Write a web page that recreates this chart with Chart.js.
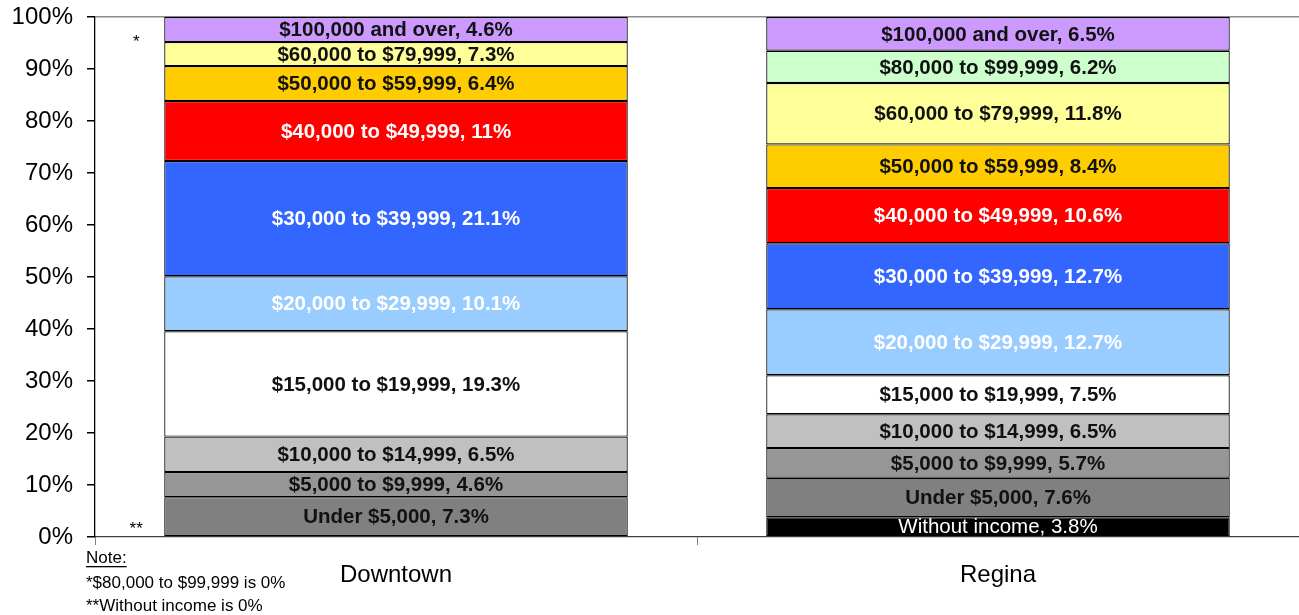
<!DOCTYPE html>
<html>
<head>
<meta charset="utf-8">
<script src="https://cdn.jsdelivr.net/npm/chart.js@4.4.1/dist/chart.umd.min.js"></script>
<style>
  html, body { margin: 0; padding: 0; background: #fff; }
  #wrap { position: relative; width: 1299px; height: 615px; }
  canvas { display: block; }
</style>
</head>
<body>
<div id="wrap"><canvas id="c" width="1299" height="615"></canvas></div>
<script>
// ---- Data ----
const categories = ['Downtown', 'Regina'];
const seriesNames = [
  'Without income',
  'Under $5,000',
  '$5,000 to $9,999',
  '$10,000 to $14,999',
  '$15,000 to $19,999',
  '$20,000 to $29,999',
  '$30,000 to $39,999',
  '$40,000 to $49,999',
  '$50,000 to $59,999',
  '$60,000 to $79,999',
  '$80,000 to $99,999',
  '$100,000 and over'
];
// plotted shares (bar heights; chart is 100%-stacked)
const downtownValues = [0, 7.3, 4.6, 6.5, 19.3, 10.1, 21.1, 11, 6.4, 4.4, 0, 4.6];
const reginaValues   = [3.8, 7.6, 5.7, 6.5, 7.5, 12.7, 12.7, 10.6, 8.4, 11.8, 6.2, 6.5];
// values printed in the segment labels
const downtownLabelValues = [0, 7.3, 4.6, 6.5, 19.3, 10.1, 21.1, 11, 6.4, 7.3, 0, 4.6];
const reginaLabelValues   = [3.8, 7.6, 5.7, 6.5, 7.5, 12.7, 12.7, 10.6, 8.4, 11.8, 6.2, 6.5];
const yTickLabels = ['0%','10%','20%','30%','40%','50%','60%','70%','80%','90%','100%'];
const zeroMarks = { 'Without income': '**', '$80,000 to $99,999': '*' };
const noteLines = ['Note:', '*$80,000 to $99,999 is 0%', '**Without income is 0%'];

// ---- Styles ----
const fillColors = ['#000000','#808080','#969696','#C0C0C0','#FFFFFF','#99CCFF',
                    '#3366FF','#FF0000','#FFCC00','#FFFF99','#CCFFCC','#CC99FF'];
const labelColors = ['#FFFFFF','#111','#111','#111','#111','#FFFFFF',
                     '#FFFFFF','#FFFFFF','#111','#111','#111','#111'];
const FONT = '"Liberation Sans", Arial, sans-serif';

const valuesByCat = [downtownValues, reginaValues];
const labelsByCat = [downtownLabelValues, reginaLabelValues];
const totals = valuesByCat.map(a => a.reduce((s, v) => s + v, 0));

const datasets = seriesNames.map((name, i) => ({
  label: name,
  data: valuesByCat.map((arr, c) => arr[i] / totals[c] * 100),
  shown: labelsByCat.map(arr => arr[i]),
  backgroundColor: fillColors[i],
  borderColor: '#000',
  borderWidth: 1.2,
  borderSkipped: false,
  barPercentage: 0.77,
  categoryPercentage: 1.0
}));

const labelPlugin = {
  id: 'segLabels',
  afterDatasetsDraw(chart) {
    const ctx = chart.ctx;
    const area = chart.chartArea;
    ctx.save();
    chart.data.datasets.forEach((ds, di) => {
      const meta = chart.getDatasetMeta(di);
      meta.data.forEach((bar, ci) => {
        const v = ds.shown[ci];
        const name = ds.label;
        if (v === 0) {
          const mark = zeroMarks[name];
          if (!mark) return;
          const half = 8;
          let yy = Math.min(Math.max(bar.y, area.top + half), area.bottom - half);
          ctx.font = '17px ' + FONT;
          ctx.fillStyle = '#000';
          ctx.textAlign = 'center';
          ctx.textBaseline = 'middle';
          ctx.fillText(mark, bar.x - bar.width / 2 - 28, yy);
          return;
        }
        const cy = (bar.y + bar.base) / 2;
        const bold = name !== 'Without income';
        ctx.font = (bold ? 'bold ' : '') + '20.5px ' + FONT;
        ctx.fillStyle = labelColors[di];
        ctx.textAlign = 'center';
        ctx.textBaseline = 'middle';
        ctx.fillText(name + ', ' + String(v) + '%', bar.x, cy + 1);
      });
    });
    // note text
    ctx.font = '17px ' + FONT;
    ctx.fillStyle = '#000';
    ctx.textAlign = 'left';
    ctx.textBaseline = 'alphabetic';
    const nx = 86;
    const baselines = [563, 588, 611];
    noteLines.forEach((t, i) => {
      ctx.fillText(t, nx, baselines[i]);
      if (i === 0) {
        const w = ctx.measureText(t).width;
        ctx.fillRect(nx, baselines[i] + 3, w, 1.3);
      }
    });
    ctx.restore();
  }
};

new Chart(document.getElementById('c'), {
  type: 'bar',
  data: { labels: categories, datasets },
  options: {
    responsive: false,
    animation: false,
    devicePixelRatio: 1,
    layout: { padding: { top: 17, right: 0, left: 0, bottom: 0 } },
    plugins: { legend: { display: false }, tooltip: { enabled: false } },
    scales: {
      x: {
        stacked: true,
        offset: true,
        grid: { display: true, offset: true, drawOnChartArea: false, tickLength: 8, tickColor: '#808080' },
        border: { display: true, color: '#404040', width: 1.3 },
        ticks: { color: '#000', font: { family: FONT, size: 24 }, padding: 16 },
        afterFit(s) { s.height = 78; s.paddingLeft = 0; s.paddingRight = 0; }
      },
      y: {
        stacked: true,
        min: 0, max: 100,
        grid: {
          drawOnChartArea: true,
          color: c => (c.tick && c.tick.value === 100) ? '#8c8c8c' : 'rgba(0,0,0,0)',
          lineWidth: 1.5,
          tickLength: 8,
          tickColor: '#000'
        },
        border: { display: true, color: '#000', width: 1.3 },
        ticks: {
          stepSize: 10,
          color: '#000',
          font: { family: FONT, size: 24 },
          padding: 14,
          callback: (v) => yTickLabels[Math.round(v / 10)]
        },
        afterFit(s) { s.width = 95; s.paddingTop = 0; s.paddingBottom = 0; }
      }
    }
  },
  plugins: [labelPlugin]
});
</script>
</body>
</html>
